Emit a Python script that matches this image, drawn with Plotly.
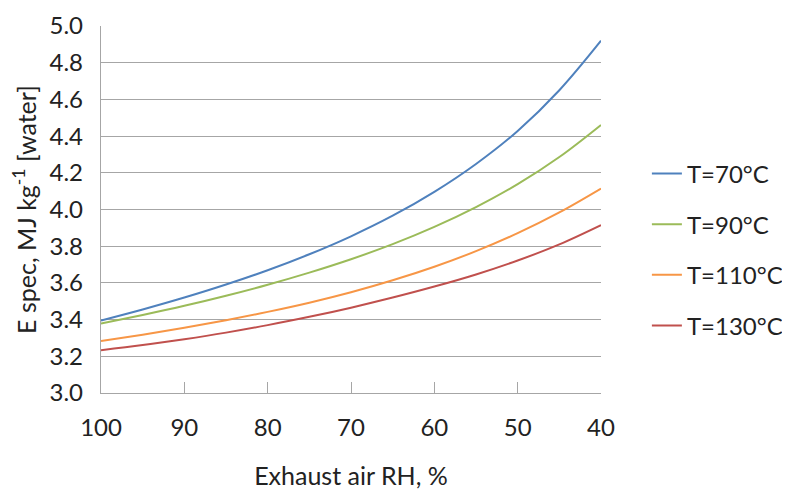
import plotly.graph_objects as go

rh = [100, 95, 90, 85, 80, 75, 70, 65, 60, 55, 50, 45, 40]
e_70 = [3.395, 3.455, 3.52, 3.591, 3.669, 3.756, 3.854, 3.966, 4.096, 4.248, 4.428, 4.65, 4.92]
e_90 = [3.378, 3.425, 3.475, 3.53, 3.59, 3.656, 3.729, 3.811, 3.905, 4.013, 4.138, 4.286, 4.461]
e_110 = [3.283, 3.318, 3.356, 3.397, 3.442, 3.492, 3.549, 3.614, 3.688, 3.773, 3.871, 3.984, 4.114]
e_130 = [3.233, 3.261, 3.293, 3.329, 3.37, 3.415, 3.465, 3.52, 3.58, 3.646, 3.722, 3.81, 3.915]

series = [
    ("T=70°C", e_70, "#4F81BD"),
    ("T=90°C", e_90, "#9BBB59"),
    ("T=110°C", e_110, "#F79646"),
    ("T=130°C", e_130, "#C0504D"),
]

font_family = "Lato, Open Sans, sans-serif"
text_color = "#222222"
grid_color = "#A6A6A6"

fig = go.Figure()
for name, vals, color in series:
    fig.add_trace(go.Scatter(
        x=rh, y=vals, mode="lines", name=name, legendgroup=name,
        line=dict(color=color, width=2, shape="spline", smoothing=1.0),
    ))

fig.update_layout(
    width=782, height=483,
    margin=dict(l=93, r=189, t=18, b=98),
    paper_bgcolor="white", plot_bgcolor="white",
    font=dict(family=font_family, size=24, color=text_color),
    showlegend=True,
    legend=dict(
        xref="container", x=0.817, y=0.39, xanchor="left", yanchor="middle",
        font=dict(size=24, color=text_color),
        tracegroupgap=16.5, itemwidth=30,
        bgcolor="rgba(0,0,0,0)",
    ),
    xaxis=dict(
        range=[100, 40], dtick=10, tick0=40, automargin=False,
        showgrid=False, zeroline=False,
        showline=True, linecolor=grid_color, linewidth=1.3,
        ticks="inside", ticklen=11, tickcolor=grid_color, tickwidth=1.3,
        ticklabelstandoff=13,
        tickfont=dict(size=24),
        title=dict(text="Exhaust air RH, %", font=dict(size=25), standoff=27),
    ),
    yaxis=dict(
        range=[3.0, 5.0], dtick=0.2, tick0=3.0, tickformat=".1f", automargin=False,
        showgrid=True, gridcolor=grid_color, gridwidth=1.3, zeroline=False,
        showline=True, linecolor=grid_color, linewidth=1.3,
        ticks="", ticklabelstandoff=12,
        tickfont=dict(size=24),
        title=dict(text="E spec, MJ kg<sup>-1</sup> [water]", font=dict(size=25), standoff=10),
    ),
)

fig.write_html("out.html")
